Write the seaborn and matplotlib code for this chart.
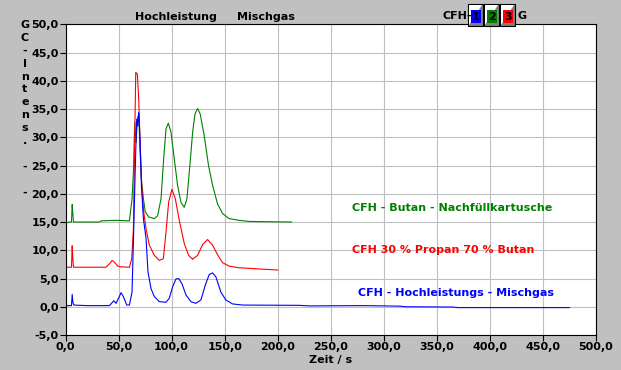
import numpy as np
import pandas as pd
import seaborn as sns
import matplotlib.pyplot as plt
from matplotlib.ticker import FuncFormatter, MultipleLocator
from matplotlib.patches import Rectangle, Polygon

# traces (time in s, GC intensity)
blue_t = [0, 5.6, 6.3, 6.9, 7.8, 20, 41.4, 45.5, 47.7, 52.4, 54.5, 57.7, 60.2, 62.7, 64.3, 65.8,
          67.1, 68.0, 69.0, 70.2, 71.5, 73.4, 75.9, 77.7, 80.6, 83.7, 88.4, 94.7, 97.8, 100.9,
          104.0, 106.6, 109.7, 113.5, 118.2, 122.9, 127.6, 131.7, 135.4, 138.6, 141.7, 146.4,
          151.1, 157.4, 166.8, 220, 230, 280, 300, 316, 320, 365, 370, 475]
blue_v = [0.2, 0.2, 2.2, 0.8, 0.3, 0.2, 0.2, 1.06, 0.6, 2.5, 1.8, 0.3, 0.3, 2.6, 13.8, 25.0,
          33.2, 32.0, 34.4, 29.7, 21.5, 15.6, 12.1, 6.2, 3.2, 1.8, 0.9, 0.8, 1.5, 3.5,
          4.9, 5.0, 4.1, 2.1, 0.9, 0.6, 1.2, 3.8, 5.7, 6.0, 5.3, 2.6,
          1.2, 0.5, 0.3, 0.25, 0.15, 0.2, 0.15, 0.1, 0.0, -0.05, -0.15, -0.15]

red_t = [0, 5.6, 6.3, 6.9, 7.5, 38.2, 41.4, 43.9, 46.1, 49.2, 52.4, 60.2, 62.4, 64.0, 65.2,
         66.2, 67.7, 69.0, 70.2, 71.8, 73.7, 75.9, 79.0, 83.7, 88.4, 92.2, 94.7, 97.2, 100.3,
         103.5, 107.2, 111.9, 116.0, 119.8, 124.5, 129.2, 133.9, 138.6, 143.3, 148.0, 154.2,
         163.6, 173.0, 200]
red_v = [7.0, 7.0, 10.8, 8.5, 7.0, 7.0, 7.6, 8.2, 7.9, 7.2, 7.06, 7.0, 8.5, 13.8, 29.7,
         41.5, 41.2, 36.8, 29.7, 21.5, 16.8, 13.8, 10.9, 9.1, 8.2, 8.5, 13.2, 18.5, 20.8,
         19.1, 15.3, 11.2, 9.1, 8.4, 9.1, 11.0, 11.9, 10.9, 9.2, 7.8, 7.2,
         6.9, 6.8, 6.5]

green_t = [0, 3.8, 5.6, 6.3, 6.9, 7.5, 32.0, 33.5, 47.7, 60.2, 62.7, 64.0, 65.2, 66.5, 67.7,
           69.0, 70.2, 71.5, 73.4, 75.2, 78.4, 83.7, 86.8, 90.0, 92.5, 94.7, 96.9, 99.4, 102.5,
           105.6, 108.8, 111.9, 114.4, 117.2, 119.8, 122.0, 124.5, 127.0, 130.7, 134.8, 138.6,
           143.3, 148.0, 154.2, 163.6, 173.0, 213]
green_v = [14.8, 15.0, 15.0, 18.1, 16.5, 15.0, 15.0, 15.2, 15.3, 15.2, 19.1, 23.8, 32.6, 29.1, 33.2,
           34.1, 27.9, 22.6, 19.1, 16.8, 15.9, 15.6, 16.1, 19.1, 26.2, 31.5, 32.5, 30.9, 26.2,
           21.5, 18.5, 17.6, 19.1, 25.0, 30.9, 34.1, 35.1, 34.1, 30.3, 25.0, 21.5,
           18.2, 16.5, 15.6, 15.3, 15.1, 15.0]

probes = ['CFH - Butan - Nachfüllkartusche', 'CFH 30 % Propan 70 % Butan', 'CFH - Hochleistungs - Mischgas']
colors = ['#008000', '#FF0000', '#0000FF']
label_pos = [(270, 17.5), (270, 10.0), (275.7, 2.4)]

# green first so blue ends up on top, like the original
df = pd.concat([
    pd.DataFrame({'t': green_t, 'v': green_v, 'probe': probes[0]}),
    pd.DataFrame({'t': red_t, 'v': red_v, 'probe': probes[1]}),
    pd.DataFrame({'t': blue_t, 'v': blue_v, 'probe': probes[2]}),
])

bg = '#C0C0C0'
plt.rcParams['font.family'] = 'DejaVu Sans'
plt.rcParams['font.weight'] = 'bold'
plt.rcParams['font.size'] = 8

fig = plt.figure(figsize=(6.21, 3.70), dpi=100, facecolor=bg)
ax = fig.add_axes([0.1055, 0.0946, 0.8543, 0.8397])

sns.lineplot(data=df, x='t', y='v', hue='probe', hue_order=probes, palette=dict(zip(probes, colors)),
             sort=False, estimator=None, legend=False, linewidth=0.8, ax=ax)

ax.set_xlim(0, 500)
ax.set_ylim(-5, 50)
ax.xaxis.set_major_locator(MultipleLocator(50))
ax.yaxis.set_major_locator(MultipleLocator(5))
fmt = FuncFormatter(lambda v, p: f"{v:.1f}".replace('.', ','))
ax.xaxis.set_major_formatter(fmt)
ax.yaxis.set_major_formatter(fmt)
ax.grid(True, color=bg, linewidth=0.8)
ax.set_axisbelow(True)
ax.tick_params(direction='out', length=4, width=0.8, pad=1, labelsize=8)
for s in ax.spines.values():
    s.set_color('black')
    s.set_linewidth(0.8)
ax.set_xlabel('Zeit / s', fontsize=8, fontweight='bold', labelpad=2)
ax.set_ylabel('')

for name, c, (x, y) in zip(probes, colors, label_pos):
    ax.text(x, y, name, color=c, fontsize=8, fontweight='bold', va='center', ha='left')

# vertical stacked axis title
ylab = 'GC-Intens. - -'
for i, ch in enumerate(ylab):
    fig.text(25 / 621, 1 - (25 + 12.9 * i) / 370, ch, ha='center', va='center', fontsize=8, fontweight='bold')

fig.text(135 / 621, 1 - 17 / 370, 'Hochleistung', ha='left', va='center', fontsize=8, fontweight='bold')
fig.text(237 / 621, 1 - 17 / 370, 'Mischgas', ha='left', va='center', fontsize=8, fontweight='bold')
fig.text(442 / 621, 1 - 16 / 370, 'CFH-', ha='left', va='center', fontsize=8, fontweight='bold')
fig.text(517 / 621, 1 - 16 / 370, 'G', ha='left', va='center', fontsize=8, fontweight='bold')


def px(x, y):
    return (x / 621, 1 - y / 370)


for i, c in enumerate(['#0000FF', '#008000', '#FF0000']):
    x0 = 468 + 16 * i
    fig.add_artist(Rectangle(px(x0, 26), 15 / 621, 22 / 370, transform=fig.transFigure,
                             facecolor='#808080', edgecolor='black', linewidth=0.8))
    fig.add_artist(Polygon([px(x0 + 1, 25), px(x0 + 1, 5), px(x0 + 14, 5)], closed=True,
                           transform=fig.transFigure, facecolor='white', edgecolor='none'))
    fig.add_artist(Rectangle(px(x0 + 3, 23), 10 / 621, 13 / 370, transform=fig.transFigure,
                             facecolor=c, edgecolor='none'))
    fig.text(*px(x0 + 8, 17), str(i + 1), ha='center', va='center', fontsize=8, fontweight='bold', color='black')

fig.savefig('out.png', dpi=100, facecolor=bg)
